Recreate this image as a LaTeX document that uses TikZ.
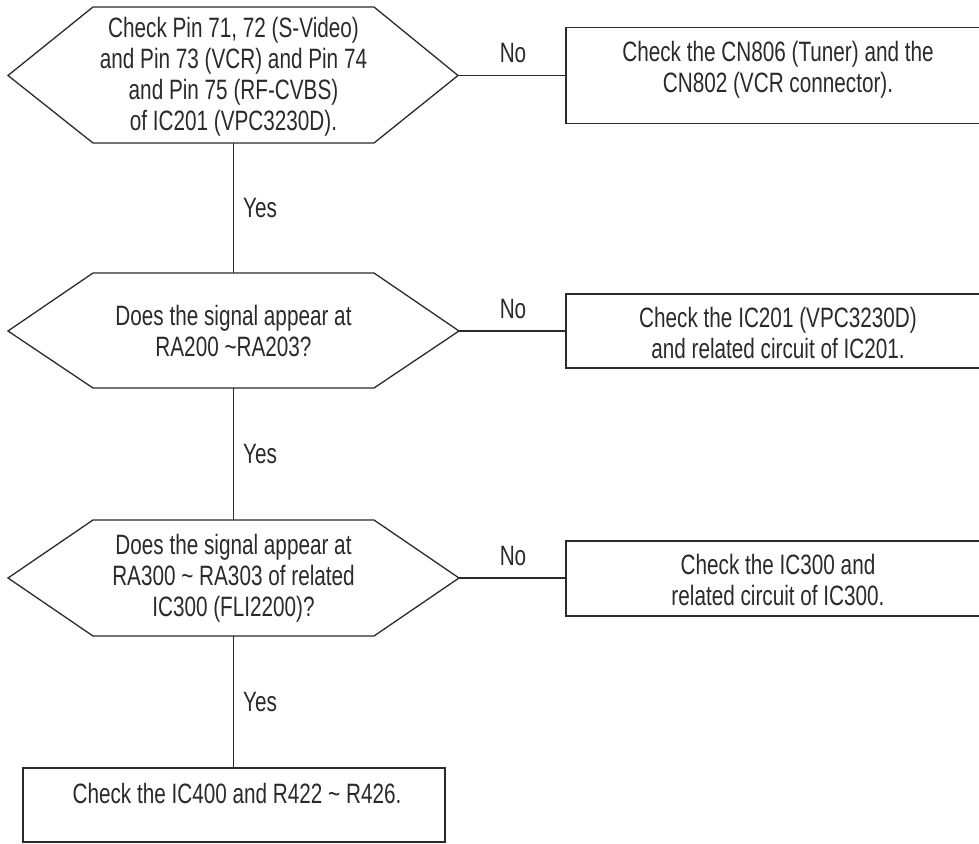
\documentclass[tikz,border=0pt]{standalone}
\usepackage{fontspec}
\setmainfont{Liberation Sans}[FakeStretch=0.74]
\definecolor{ink}{HTML}{2A2A2A}
\begin{document}
\begin{tikzpicture}[x=1pt,y=-1pt,
  lbl/.style={font=\fontsize{28}{31}\selectfont, align=center, inner sep=0pt, text=ink},
  edge/.style={draw=ink, line width=1.3pt},
  hexline/.style={draw=ink, line width=1.3pt, line join=miter},
  boxn/.style={draw=ink, line width=1.3pt, rectangle, inner sep=0pt},
]
\useasboundingbox (0,0) rectangle (979,843);

% decision 1
\coordinate (h1l) at (8,75.5);
\coordinate (h1r) at (458,75.5);
\coordinate (h1t) at (233.5,7);
\coordinate (h1b) at (233.5,143);
\draw[hexline] (h1l) -- (93,7) -- (374,7) -- (h1r) -- (374,143) -- (93,143) -- cycle;
\node[lbl] (q1) at (233.5,77) {Check Pin 71, 72 (S-Video)\\and Pin 73 (VCR) and Pin 74\\and Pin 75 (RF-CVBS)\\of IC201 (VPC3230D).};

% decision 2
\coordinate (h2l) at (8,331);
\coordinate (h2r) at (459,331);
\coordinate (h2t) at (233.5,273);
\coordinate (h2b) at (233.5,388);
\draw[hexline] (h2l) -- (93,273) -- (374,273) -- (h2r) -- (374,388) -- (93,388) -- cycle;
\node[lbl] (q2) at (233.5,331) {Does the signal appear at\\RA200 \textasciitilde RA203?};

% decision 3
\coordinate (h3l) at (8,578);
\coordinate (h3r) at (459,578);
\coordinate (h3t) at (233.5,520);
\coordinate (h3b) at (233.5,636);
\draw[hexline] (h3l) -- (93,520) -- (374,520) -- (h3r) -- (374,636) -- (93,636) -- cycle;
\node[lbl] (q3) at (233.5,578) {Does the signal appear at\\RA300 \textasciitilde{} RA303 of related\\IC300 (FLI2200)?};

% boxes
\node[boxn, minimum width=424pt, minimum height=96pt] (b1) at (778,75.5) {};
\node[lbl] (t1) at (778,70) {Check the CN806 (Tuner) and the\\CN802 (VCR connector).};
\node[boxn, minimum width=424pt, minimum height=74pt] (b2) at (778,331) {};
\node[lbl] (t2) at (778,333) {Check the IC201 (VPC3230D)\\and related circuit of IC201.};
\node[boxn, minimum width=424pt, minimum height=75pt] (b3) at (778,578.5) {};
\node[lbl] (t3) at (778,580) {Check the IC300 and\\related circuit of IC300.};
\node[boxn, minimum width=422pt, minimum height=74pt] (b4) at (234,805) {};
\node[lbl] (t4) at (237,793.5) {Check the IC400 and R422 \textasciitilde{} R426.};

% connectors
\draw[edge] (h1r) -- (h1r -| b1.west);
\draw[edge] (h2r) -- (h2r -| b2.west);
\draw[edge] (h3r) -- (h3r -| b3.west);
\draw[edge] (h1b) -- (h2t);
\draw[edge] (h2b) -- (h3t);
\draw[edge] (h3b) -- (h3b |- b4.north);

% labels
\node[lbl, anchor=base] (n1) at (513,63) {No};
\node[lbl, anchor=base] (n2) at (513,318) {No};
\node[lbl, anchor=base] (n3) at (513,565) {No};
\node[lbl, anchor=west] (y1) at (243,208) {Yes};
\node[lbl, anchor=west] (y2) at (243,454) {Yes};
\node[lbl, anchor=west] (y3) at (243,702) {Yes};
\end{tikzpicture}
\end{document}
